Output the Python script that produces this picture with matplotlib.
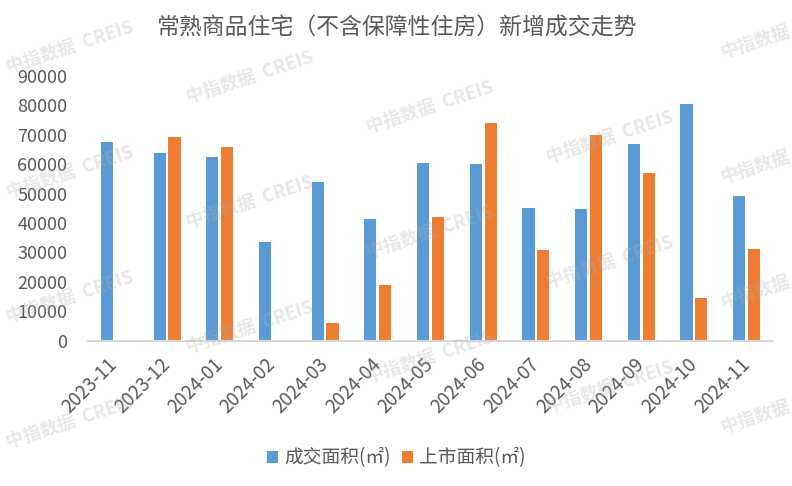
import matplotlib
matplotlib.use("Agg")
import matplotlib.pyplot as plt
import numpy as np

plt.rcParams['font.family'] = ['Noto Sans CJK SC', 'DejaVu Sans']

months = ["2023-11", "2023-12", "2024-01", "2024-02", "2024-03", "2024-04", "2024-05",
          "2024-06", "2024-07", "2024-08", "2024-09", "2024-10", "2024-11"]
deal_area = [67600, 63800, 62400, 33500, 53900, 41300, 60400, 60000, 45200, 44700, 66800, 80500, 49200]
supply_area = [0, 69300, 65800, 0, 6000, 18900, 42000, 74100, 30800, 69900, 57000, 14500, 31200]
yticks = [0, 10000, 20000, 30000, 40000, 50000, 60000, 70000, 80000, 90000]

BLUE = "#5B9BD5"
ORANGE = "#ED7D31"
GREY = "#595959"

fig = plt.figure(figsize=(7.92, 4.86), dpi=100)
ax = fig.add_axes([88 / 792, 1 - 340.7 / 486, 685 / 792, (340.7 - 76) / 486])

x = np.arange(len(months))
w = 0.23
ax.bar(x - 0.141, deal_area, w, color=BLUE, label="成交面积(㎡)", zorder=2)
ax.bar(x + 0.141, supply_area, w, color=ORANGE, label="上市面积(㎡)", zorder=2)

ax.set_xlim(-0.5, len(months) - 0.5)
ax.set_ylim(0, 90000)
ax.set_yticks(yticks)
ax.set_yticklabels([str(v) for v in yticks], fontsize=13, color=GREY)
ax.set_xticks(x)
ax.set_xticklabels(months, rotation=45, ha="right", va="center", rotation_mode="anchor",
                   fontsize=13.5, color=GREY)
ax.tick_params(axis="x", length=0, pad=15)
ax.tick_params(axis="y", length=0, pad=15)
for side in ["top", "right", "left"]:
    ax.spines[side].set_visible(False)
ax.spines["bottom"].set_color("#D9D9D9")
ax.spines["bottom"].set_linewidth(1.5)

fig.text(0.5, 1 - 28 / 486, "常熟商品住宅（不含保障性住房）新增成交走势", ha="center", va="center",
         fontsize=16.5, color=GREY)

fig.legend(loc="center", bbox_to_anchor=(0.5, 1 - 458 / 486), ncol=2, frameon=False,
           fontsize=13.5, labelcolor=GREY, handlelength=0.6, handleheight=0.6,
           handletextpad=0.3, columnspacing=0.6)

# watermark grid
for col, cx in enumerate([70, 250, 430, 610, 755]):
    mark = "中指数据" if col == 4 else "中指数据  CREIS"
    for k in range(-1, 4):
        cy = 47 + 30 * col + 125 * k
        if 35 <= cy <= 450:
            fig.text(cx / 792, 1 - cy / 486, mark, ha="center", va="center",
                     rotation=18, fontsize=13, fontweight="bold", color="#b0b0b0",
                     alpha=0.3, zorder=10)

fig.savefig("out.png", dpi=100)
